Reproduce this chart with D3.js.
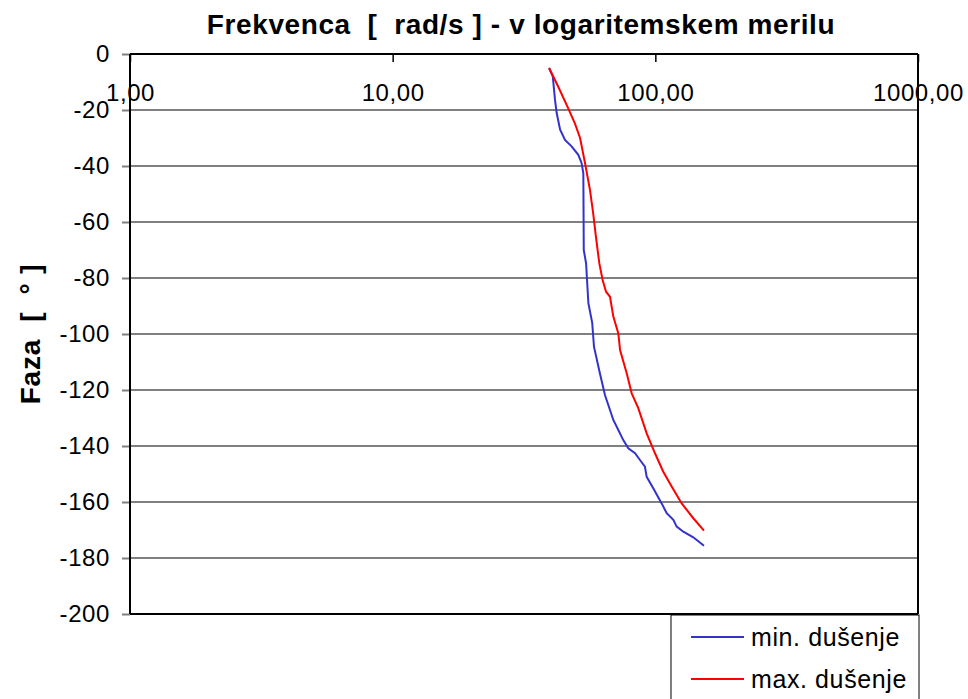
<!DOCTYPE html>
<html>
<head>
<meta charset="utf-8">
<script src="https://cdn.jsdelivr.net/npm/d3@7"></script>
<style>
  body { margin: 0; background: #fff; }
  text { font-family: "Liberation Sans", Arial, sans-serif; }
</style>
</head>
<body>
<div id="chart"></div>
<script>
// frekvenca [rad/s] in faza [deg], odcitano s slike
var minFreq = [39.4, 40.7, 41.5, 42.1, 43.4, 45.3, 48.0, 50.9, 52.4, 53.2, 53.4, 54.5, 55.6, 57.5, 58.4, 61.5, 64.3, 69.2, 72.3, 75.5, 78.9, 83.7, 87.4, 91.3, 92.7, 98.2, 105.7, 110.5, 117.1, 120.6, 127.8, 139.5, 153.2];
var minFaza = [-5, -8, -16.4, -21, -27, -30.7, -33, -36, -39, -42.6, -70, -74.8, -89, -96, -104.5, -114, -121.8, -130.7, -134.3, -137.9, -140.8, -142.6, -145, -147.4, -151, -155.1, -160.5, -164, -166.4, -168.8, -170.6, -172.6, -175.6];

var maxFreq = [39.4, 42.7, 46.6, 49.4, 51.7, 54.0, 56.4, 58.0, 59.4, 61.2, 63.0, 64.9, 67.2, 69.2, 72.3, 73.4, 77.8, 81.3, 86.1, 92.7, 99.7, 107.2, 115.4, 126.0, 139.5, 153.2];
var maxFaza = [-5, -11.7, -19.4, -24.8, -30, -39, -48.6, -56.9, -65.2, -74.8, -80.7, -84.9, -86.7, -93.8, -99.8, -105.7, -114, -121.2, -126.5, -135.5, -142.6, -149.2, -154.5, -160.5, -165.8, -170.2];

var xTicks = [1, 10, 100, 1000];
var yTicks = [0, -20, -40, -60, -80, -100, -120, -140, -160, -180, -200];
var serije = [
  {ime: "min. dušenje", x: minFreq, y: minFaza, barva: "#3333cc"},
  {ime: "max. dušenje", x: maxFreq, y: maxFaza, barva: "#ff0000"}
];

var W = 968, H = 699;
var mLeft = 130, mRight = 918, mTop = 54, mBottom = 614;

var svg = d3.select("#chart").append("svg")
            .attr("width", W)
            .attr("height", H);

var x = d3.scaleLog().domain([1, 1000]).range([mLeft, mRight]);
var y = d3.scaleLinear().domain([-200, 0]).range([mBottom, mTop]);

// mreza
svg.selectAll(".grid")
   .data(yTicks.filter(function(d){ return d != 0 && d != -200; }))
   .enter().append("line")
   .attr("x1", mLeft).attr("x2", mRight)
   .attr("y1", function(d){ return y(d); })
   .attr("y2", function(d){ return y(d); })
   .style("stroke", "#808080")
   .style("stroke-width", 2);

// y os
var yAxis = svg.append("g")
   .attr("transform", "translate(" + mLeft + ",0)")
   .call(d3.axisLeft(y).tickValues(yTicks).tickSize(8).tickPadding(12).tickFormat(function(d){ return String(d); }));
yAxis.select(".domain").remove();
yAxis.selectAll("line").style("stroke", "#808080").style("stroke-width", 2);
yAxis.selectAll("text").style("font-size", "24px").style("fill", "#000")
     .style("letter-spacing", "0.6px")
     .style("font-family", "Liberation Sans, Arial, sans-serif");

// x os na vrhu (0 stopinj)
var xAxis = svg.append("g")
   .attr("transform", "translate(0," + mTop + ")")
   .call(d3.axisBottom(x).tickValues(xTicks).tickSize(8).tickPadding(22)
        .tickFormat(function(d){ return d3.format(".2f")(d).replace(".", ","); }));
xAxis.select(".domain").remove();
xAxis.selectAll("line").style("stroke", "#000").style("stroke-width", 1.5);
xAxis.selectAll("text").style("font-size", "24px").style("fill", "#000")
     .style("letter-spacing", "0.6px")
     .style("font-family", "Liberation Sans, Arial, sans-serif");

// okvir
svg.append("line").attr("x1", mLeft).attr("x2", mRight).attr("y1", mTop).attr("y2", mTop)
   .style("stroke", "#000").style("stroke-width", 2);
svg.append("line").attr("x1", mLeft).attr("x2", mLeft).attr("y1", mTop).attr("y2", mBottom)
   .style("stroke", "#000").style("stroke-width", 2);
svg.append("line").attr("x1", mRight).attr("x2", mRight).attr("y1", mTop).attr("y2", mBottom)
   .style("stroke", "#000").style("stroke-width", 2);
svg.append("line").attr("x1", mLeft).attr("x2", mRight).attr("y1", mBottom).attr("y2", mBottom)
   .style("stroke", "#000").style("stroke-width", 2);

// krivulje
var line = d3.line()
   .x(function(d){ return x(d[0]); })
   .y(function(d){ return y(d[1]); });

serije.forEach(function(s){
  var pts = d3.zip(s.x, s.y);
  svg.append("path")
     .datum(pts)
     .attr("d", line)
     .style("fill", "none")
     .style("stroke", s.barva)
     .style("stroke-width", 2);
});

// naslov
svg.append("text")
   .attr("x", 521).attr("y", 34)
   .attr("text-anchor", "middle")
   .style("font-size", "28px").style("font-weight", "bold")
   .style("letter-spacing", "0.6px")
   .style("white-space", "pre")
   .text("Frekvenca  [  rad/s ] - v logaritemskem merilu");

svg.append("text")
   .attr("transform", "translate(40,334) rotate(-90)")
   .attr("text-anchor", "middle")
   .style("font-size", "28px").style("font-weight", "bold")
   .style("letter-spacing", "0.8px")
   .style("white-space", "pre")
   .text("Faza  [  ° ]");

// legenda
var leg = svg.append("g");
leg.append("rect")
   .attr("x", 671).attr("y", 615).attr("width", 248).attr("height", 90)
   .style("fill", "#fff").style("stroke", "#000").style("stroke-width", 1);
serije.forEach(function(s, i){
  var ly = 637 + i * 42;
  leg.append("line")
     .attr("x1", 691).attr("x2", 744).attr("y1", ly).attr("y2", ly)
     .style("stroke", s.barva).style("stroke-width", 2);
  leg.append("text")
     .attr("x", 751).attr("y", ly + 9)
     .style("font-size", "25px")
     .style("letter-spacing", "0.6px")
     .text(s.ime);
});
</script>
</body>
</html>
